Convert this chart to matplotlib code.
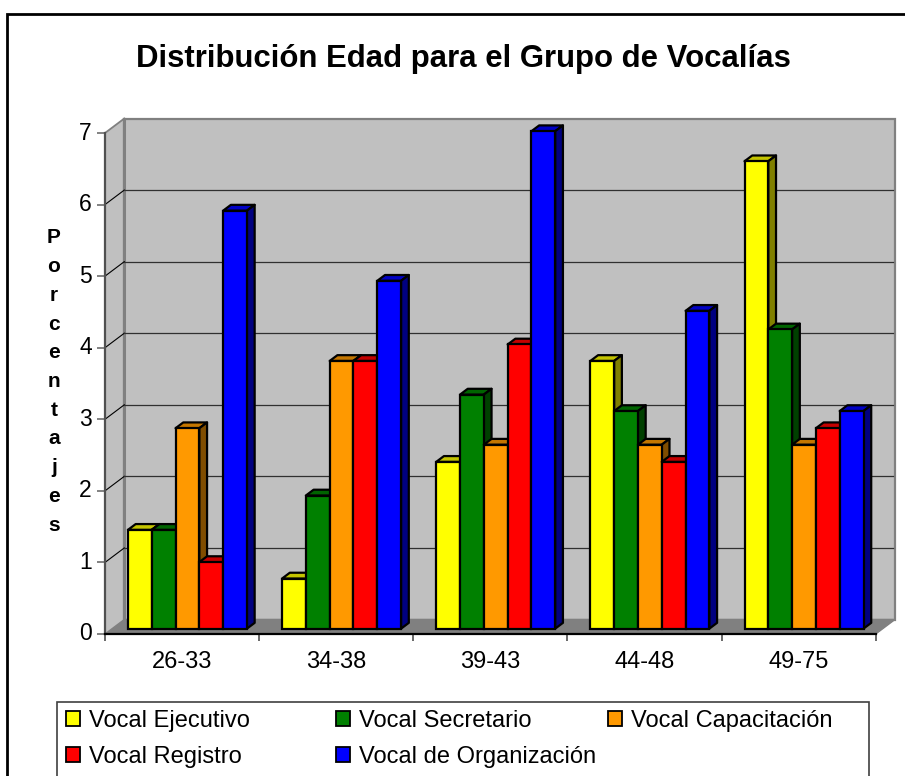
import matplotlib
matplotlib.use("Agg")
import matplotlib.pyplot as plt
from matplotlib.patches import Polygon, Rectangle, Patch
from matplotlib.ticker import FixedLocator, NullFormatter, FixedFormatter
from matplotlib.transforms import ScaledTranslation

plt.rcParams['font.family'] = ['Liberation Sans', 'DejaVu Sans']

categories = ['26-33', '34-38', '39-43', '44-48', '49-75']
vocal_ejecutivo = [1.38, 0.70, 2.33, 3.74, 6.53]
vocal_secretario = [1.38, 1.86, 3.27, 3.04, 4.18]
vocal_capacitacion = [2.80, 3.74, 2.57, 2.57, 2.57]
vocal_registro = [0.93, 3.74, 3.97, 2.33, 2.80]
vocal_organizacion = [5.84, 4.86, 6.95, 4.44, 3.04]
series_names = ['Vocal Ejecutivo', 'Vocal Secretario', 'Vocal Capacitación',
                'Vocal Registro', 'Vocal de Organización']
series_values = [vocal_ejecutivo, vocal_secretario, vocal_capacitacion,
                 vocal_registro, vocal_organizacion]
front_colors = ['#FFFF00', '#008000', '#FF9900', '#FF0000', '#0000FF']
top_colors = ['#C4C400', '#006400', '#C47600', '#C40000', '#0000C4']
side_colors = ['#808000', '#004000', '#804D00', '#800000', '#000080']
title = 'Distribución Edad para el Grupo de Vocalías'
ylabel = 'Porcentajes'

W, H = 905, 776
fig = plt.figure(figsize=(W / 100, H / 100), dpi=100, facecolor='white')


def fx(px):
    return px / W


def fy(py):
    return 1 - py / H


# Outer chart frame, cut by the image's right and bottom edges
fig.add_artist(Rectangle((fx(7), fy(H + 20)), fx(W + 20 - 7), fy(14) - fy(H + 20),
                         transform=fig.transFigure, fill=False, ec='black', lw=2))

L, R, T, B = 105, 875.7, 133, 634
ax = fig.add_axes([fx(L), fy(B), fx(R - L), fy(T) - fy(B)], facecolor='none')
n_groups = len(categories)
ax.set_xlim(0, n_groups)
ax.set_ylim(0, 7)

px_x = (R - L) / n_groups
px_y = (B - T) / 7
DX = 19.3 / px_x   # full depth of the chart box in data units
DY = 14.5 / px_y

# Walls and floor
ax.add_patch(Polygon([(0, 0), (DX, DY), (DX, 7 + DY), (0, 7)], fc='#C0C0C0', ec='none', clip_on=False, zorder=1))
ax.add_patch(Polygon([(DX, DY), (n_groups + DX, DY), (n_groups + DX, 7 + DY), (DX, 7 + DY)],
                     fc='#C0C0C0', ec='#808080', lw=1.6, clip_on=False, zorder=1, joinstyle='miter'))
ax.add_patch(Polygon([(0, 0), (n_groups, 0), (n_groups + DX, DY), (DX, DY)],
                     fc='#808080', ec='#808080', lw=1, clip_on=False, zorder=1.5))
ax.plot([0, DX], [7, 7 + DY], color='#808080', lw=1.3, clip_on=False, zorder=1.6)
ax.plot([DX, DX], [DY, 7 + DY], color='#808080', lw=2.2, clip_on=False, zorder=1.6)
for v in range(1, 7):
    ax.plot([0, DX], [v, v + DY], color='black', lw=0.8, clip_on=False, zorder=1.7)
    ax.plot([DX, n_groups + DX - 0.012], [v + DY, v + DY], color='#303030', lw=0.9,
            clip_on=False, zorder=1.7)

# Bars
d0 = 0.37
depth = 0.40
bar_w = 23.8 / px_x
margin = 15.8 / px_x
dep_x, dep_y = depth * DX, depth * DY
z = 3.0
for g in range(n_groups):
    for s, vals in enumerate(series_values):
        v = vals[g]
        x0 = g + margin + s * bar_w + d0 * DX
        y0 = d0 * DY
        x1 = x0 + bar_w
        y1 = y0 + v
        ax.add_patch(Polygon([(x0, y1), (x1, y1), (x1 + dep_x, y1 + dep_y), (x0 + dep_x, y1 + dep_y)],
                             fc=top_colors[s], ec='black', lw=1.6, clip_on=False, zorder=z, joinstyle='round'))
        ax.add_patch(Polygon([(x1, y0), (x1 + dep_x, y0 + dep_y), (x1 + dep_x, y1 + dep_y), (x1, y1)],
                             fc=side_colors[s], ec='black', lw=1.6, clip_on=False, zorder=z, joinstyle='round'))
        ax.bar(x0, v, width=bar_w, bottom=y0, align='edge', color=front_colors[s],
               edgecolor='black', linewidth=1.6, clip_on=False, zorder=z + 0.01)
        z += 0.1

# Axes
for sp in ('top', 'right'):
    ax.spines[sp].set_visible(False)
ax.spines['left'].set_color('#505050')
ax.spines['left'].set_linewidth(1.6)
ax.spines['bottom'].set_color('black')
ax.spines['bottom'].set_linewidth(1.6)
ax.spines['left'].set_zorder(2)
ax.spines['bottom'].set_zorder(2)
ax.set_yticks(range(0, 8))
ax.tick_params(axis='y', length=5.8, width=1.1, color='#606060', labelsize=16.5, pad=3.6, labelcolor='black')
up = ScaledTranslation(0, 2.5 / 100, fig.dpi_scale_trans)
for lab in ax.get_yticklabels():
    lab.set_transform(lab.get_transform() + up)
ax.xaxis.set_major_locator(FixedLocator(list(range(n_groups + 1))))
ax.xaxis.set_major_formatter(NullFormatter())
ax.xaxis.set_minor_locator(FixedLocator([g + 0.5 for g in range(n_groups)]))
ax.xaxis.set_minor_formatter(FixedFormatter(categories))
ax.tick_params(axis='x', which='major', length=5.2, width=1.1, color='#404040')
ax.tick_params(axis='x', which='minor', length=0, labelsize=17, pad=12.5)

fig.text(fx(463), fy(59.5), title, ha='center', va='center', fontsize=22.4, fontweight='bold')
fig.text(fx(54), fy(381.5), '\n'.join(ylabel), ha='center', va='center', fontsize=15,
         fontweight='bold', linespacing=1.65)

# Legend box, running past the bottom of the image
fig.add_artist(Rectangle((fx(57), fy(H + 20)), fx(869 - 57), fy(702) - fy(H + 20),
                         transform=fig.transFigure, fc='white', ec='#404040', lw=1.2, zorder=5))
columns = [([0, 3], 66), ([1, 4], 336), ([2], 608)]
for idx, px in columns:
    handles = [Patch(fc=front_colors[i], ec='black', lw=1.3, label=series_names[i]) for i in idx]
    leg = fig.legend(handles=handles, loc='upper left', bbox_to_anchor=(fx(px), fy(710)),
                     bbox_transform=fig.transFigure, frameon=False, fontsize=17,
                     borderaxespad=0, borderpad=0, handlelength=0.6, handleheight=0.6,
                     handletextpad=0.36, labelspacing=0.6)
    leg.set_zorder(6)

fig.savefig('out.png', dpi=100)
